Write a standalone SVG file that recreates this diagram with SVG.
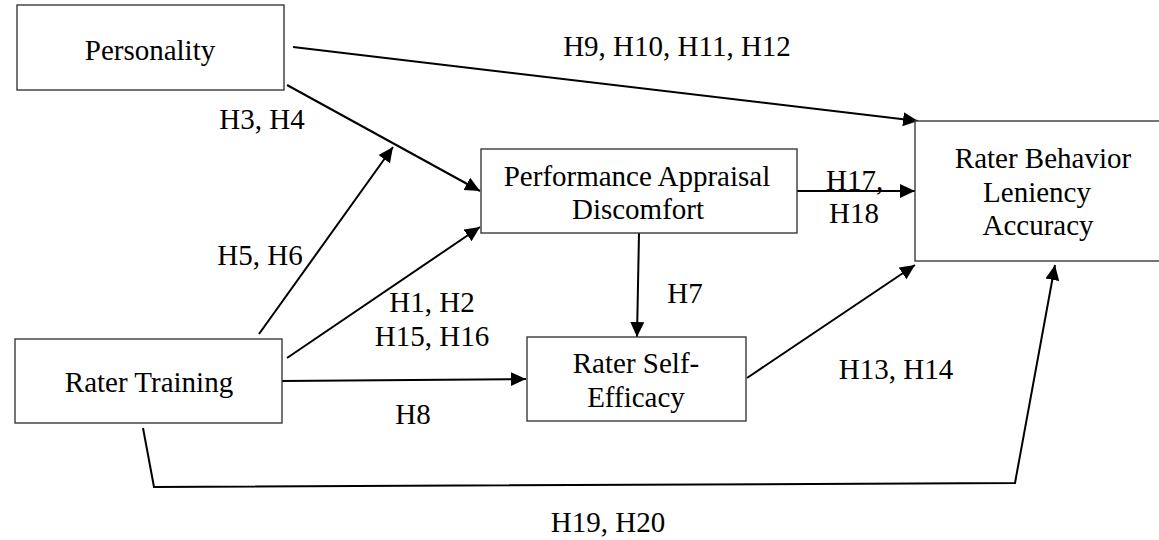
<svg xmlns="http://www.w3.org/2000/svg" width="1159" height="540" viewBox="0 0 1159 540">
<style>
.box{fill:#fff;stroke:#3a3a3a;stroke-width:1.4}
.t{font-family:"Liberation Serif","Times New Roman",serif;font-size:29px;fill:#000}
.m{text-anchor:middle}
.c{fill:none;stroke:#000;stroke-width:2}
</style>
<defs>
<marker id="ah" markerUnits="userSpaceOnUse" markerWidth="16" markerHeight="16" refX="15" refY="7" orient="auto" viewBox="0 0 16 14">
<path d="M0,0 L15,7 L0,14 z" fill="#000"/>
</marker>
</defs>
<rect width="1159" height="540" fill="#fff"/>
<g id="connectors">
<line class="c" x1="293" y1="47" x2="918" y2="121" marker-end="url(#ah)"/>
<line class="c" x1="287" y1="85" x2="480" y2="191" marker-end="url(#ah)"/>
<line class="c" x1="259" y1="334" x2="393" y2="147" marker-end="url(#ah)"/>
<line class="c" x1="287" y1="358" x2="480" y2="227" marker-end="url(#ah)"/>
<line class="c" x1="282" y1="381" x2="526" y2="379" marker-end="url(#ah)"/>
<line class="c" x1="639" y1="233" x2="637" y2="337" marker-end="url(#ah)"/>
<line class="c" x1="797" y1="191" x2="915" y2="191" marker-end="url(#ah)"/>
<line class="c" x1="747" y1="378" x2="915" y2="265" marker-end="url(#ah)"/>
<polyline class="c" points="143,428 154,487 1015,483 1055,265" marker-end="url(#ah)"/>
<text class="t m" x="677" y="56">H9, H10, H11, H12</text>
<text class="t m" x="262" y="129">H3, H4</text>
<text class="t m" x="260" y="265">H5, H6</text>
<text class="t m" x="432" y="312">H1, H2</text>
<text class="t m" x="432" y="346">H15, H16</text>
<text class="t m" x="413" y="424">H8</text>
<text class="t m" x="685" y="303">H7</text>
<text class="t m" x="896" y="379">H13, H14</text>
<text class="t" x="826" y="190">H17,</text>
<text class="t m" x="854" y="223">H18</text>
<text class="t m" x="608" y="532">H19, H20</text>
</g>
<g id="personality">
<rect class="box" x="17" y="5" width="267" height="85"/>
<text class="t m" x="150" y="60">Personality</text>
</g>
<g id="pad">
<rect class="box" x="481" y="149" width="316" height="84"/>
<text class="t m" x="637" y="186">Performance Appraisal</text>
<text class="t m" x="638" y="219">Discomfort</text>
</g>
<g id="rater-behavior">
<rect class="box" x="915" y="121" width="260" height="140"/>
<text class="t m" x="1043" y="168">Rater Behavior</text>
<text class="t m" x="1037" y="202">Leniency</text>
<text class="t m" x="1038" y="235">Accuracy</text>
</g>
<g id="rater-training">
<rect class="box" x="15" y="339" width="267" height="84"/>
<text class="t m" x="149" y="392">Rater Training</text>
</g>
<g id="self-efficacy">
<rect class="box" x="527" y="337" width="219" height="84"/>
<text class="t m" x="636" y="373">Rater Self-</text>
<text class="t m" x="636" y="407">Efficacy</text>
</g>
</svg>
